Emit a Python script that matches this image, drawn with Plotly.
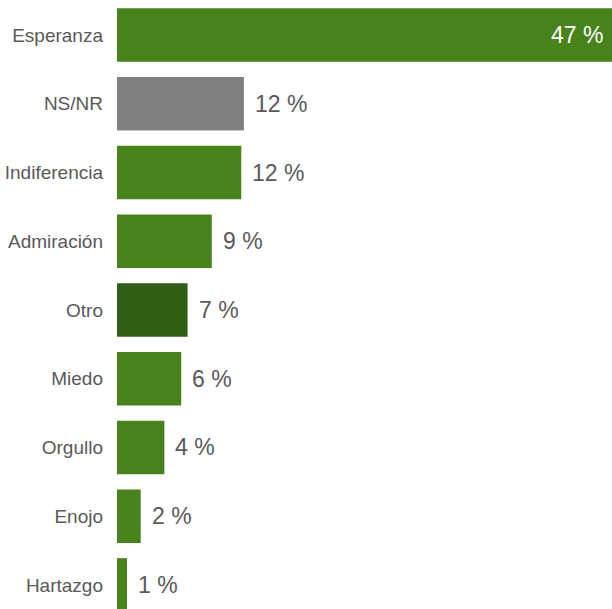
import plotly.graph_objects as go

categories = ["Esperanza", "NS/NR", "Indiferencia", "Admiración", "Otro",
              "Miedo", "Orgullo", "Enojo", "Hartazgo"]
values = [47.0, 12.05, 11.8, 9.0, 6.7, 6.1, 4.5, 2.25, 0.95]
labels = ["47 %", "12 %", "12 %", "9 %", "7 %", "6 %", "4 %", "2 %", "1 %"]
colors = ["#47821A", "#808080", "#47821A", "#47821A", "#325E14",
          "#47821A", "#47821A", "#47821A", "#47821A"]

fig = go.Figure(go.Bar(
    y=categories, x=values, orientation="h",
    marker=dict(color=colors, line=dict(width=0)),
    hoverinfo="skip",
))

annotations = []
for i, (c, v, t) in enumerate(zip(categories, values, labels)):
    inside = (i == 0)
    annotations.append(dict(
        x=v, y=c, xref="x", yref="y", text=t, showarrow=False,
        xanchor="right" if inside else "left",
        xshift=-7 if inside else 9,
        font=dict(family="Liberation Sans, Arial, sans-serif", size=23,
                  color="#FFFFFF" if inside else "#595959"),
    ))

fig.update_layout(
    width=612, height=609,
    margin=dict(l=117, r=0, t=0, b=0),
    paper_bgcolor="white", plot_bgcolor="white",
    bargap=0.22,
    showlegend=False,
    annotations=annotations,
    xaxis=dict(range=[0, 47], visible=False, fixedrange=True),
    yaxis=dict(range=[8.35, -0.51], showgrid=False, zeroline=False,
               showline=False, ticks="", ticklabelstandoff=13,
               fixedrange=True,
               tickfont=dict(family="Liberation Sans, Arial, sans-serif",
                             size=19, color="#595959")),
)

fig.write_html("out.html",
               config={"displayModeBar": False},
               post_script="document.body.style.margin='0';document.body.style.overflow='hidden';")
